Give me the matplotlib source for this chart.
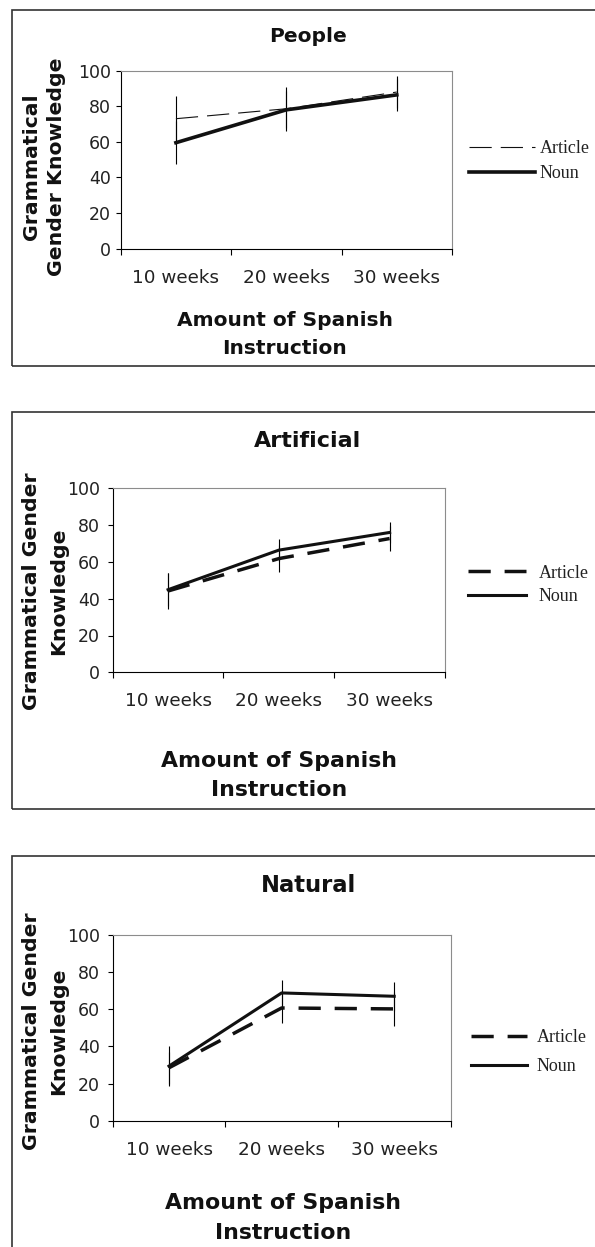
import matplotlib
matplotlib.use("Agg")
import matplotlib.pyplot as plt
from matplotlib.patches import Rectangle

# data
weeks = ['10 weeks', '20 weeks', '30 weeks']

people_article = [73, 78.6, 88]
people_article_err = [12.8, 12.4, 9.2]
people_noun = [59.5, 78, 86.4]
people_noun_err = [12, 10.5, 9]

artificial_article = [44.2, 61.8, 72.7]
artificial_article_err = [10, 7.3, 7]
artificial_noun = [44.9, 66.4, 76]
artificial_noun_err = [9, 6, 5.8]

natural_article = [28.5, 60.7, 60.2]
natural_article_err = [8.7, 8, 9.2]
natural_noun = [29.4, 68.8, 67]
natural_noun_err = [10.6, 7, 7.8]

plt.rcParams['lines.scale_dashes'] = False

W, H = 595, 1247
fig = plt.figure(figsize=(W / 100, H / 100), dpi=100)


def fx(x):
    return x / W


def fy(y):
    return 1 - y / H


def draw_panel(box, axbox, title, title_size, xlab_y, xlab_x, xlab_size,
               ylab_lines, ylab_xs, ylab_y, art, art_err, noun, noun_err,
               art_lw, art_dash, noun_lw, leg_x, leg_y, leg_hl, leg_pad, leg_sp,
               ytick_pad):
    # outer frame
    x0, y0, y1 = box
    fig.patches.append(Rectangle((fx(x0), fy(y1)), fx(700) - fx(x0), fy(y0) - fy(y1),
                                 transform=fig.transFigure, fill=False,
                                 edgecolor='#333333', linewidth=1.2))
    l, r, t, b = axbox
    ax = fig.add_axes([fx(l), fy(b), (r - l) / W, (b - t) / H])
    x = [0.5, 1.5, 2.5]
    ax.errorbar(x, art, yerr=art_err, fmt='none', ecolor='black', elinewidth=0.8, capsize=0)
    ax.errorbar(x, noun, yerr=noun_err, fmt='none', ecolor='black', elinewidth=0.8, capsize=0)
    la, = ax.plot(x, art, color='#111111', lw=art_lw, dashes=art_dash, label='Article')
    ln, = ax.plot(x, noun, color='#111111', lw=noun_lw, label='Noun')
    ax.set_xlim(0, 3)
    ax.set_ylim(0, 100)
    ax.set_yticks(range(0, 101, 20))
    ax.set_xticks([0, 1, 2, 3])
    ax.set_xticklabels([])
    ax.set_xticks(x, minor=True)
    ax.set_xticklabels(weeks, minor=True, fontsize=13.2, color='#222222')
    ax.tick_params(axis='x', which='minor', length=0, pad=14.5)
    ax.tick_params(axis='x', which='major', length=4.5, width=0.8, direction='out')
    ax.tick_params(axis='y', length=3.6, width=0.8, direction='out', pad=ytick_pad,
                   labelsize=12.5, labelcolor='#222222')
    for s in ['top', 'right']:
        ax.spines[s].set_color('#8c8c8c')
        ax.spines[s].set_linewidth(0.8)
    for s in ['left', 'bottom']:
        ax.spines[s].set_color('black')
        ax.spines[s].set_linewidth(0.8)

    fig.text(fx(308), fy(title[1]), title[0], ha='center', va='center',
             fontsize=title_size, fontweight='bold', color='#111111')
    fig.text(fx(xlab_x), fy(xlab_y[0]), 'Amount of Spanish', ha='center', va='center',
             fontsize=xlab_size, fontweight='bold', color='#111111')
    fig.text(fx(xlab_x), fy(xlab_y[1]), 'Instruction', ha='center', va='center',
             fontsize=xlab_size, fontweight='bold', color='#111111')
    for txt, xx in zip(ylab_lines, ylab_xs):
        fig.text(fx(xx), fy(ylab_y), txt, ha='center', va='center', rotation=90,
                 fontsize=14.7, fontweight='bold', color='#111111')

    leg = ax.legend(handles=[la, ln], loc='center left',
                    bbox_to_anchor=(fx(leg_x), fy(leg_y)),
                    bbox_transform=fig.transFigure, frameon=False,
                    borderpad=0, borderaxespad=0, handlelength=leg_hl,
                    handletextpad=leg_pad, labelspacing=leg_sp,
                    prop={'family': 'Liberation Serif', 'size': 13})
    for t_ in leg.get_texts():
        t_.set_color('#222222')
    return ax


draw_panel(box=(12, 10.5, 365.7), axbox=(120.7, 452, 70.7, 248.5),
           title=('People', 36), title_size=14.5,
           xlab_y=(321, 348), xlab_x=285, xlab_size=14.5,
           ylab_lines=['Grammatical', 'Gender Knowledge'], ylab_xs=[32, 56], ylab_y=167,
           art=people_article, art_err=people_article_err,
           noun=people_noun, noun_err=people_noun_err,
           art_lw=0.8, art_dash=(16, 6.5), noun_lw=2.6,
           leg_x=469, leg_y=161, leg_hl=3.65, leg_pad=0.25, leg_sp=0.45,
           ytick_pad=3.6)

draw_panel(box=(12, 411.7, 809.3), axbox=(112.7, 445, 488.3, 672.3),
           title=('Artificial', 440.7), title_size=16,
           xlab_y=(760.7, 790), xlab_x=279, xlab_size=15.8,
           ylab_lines=['Grammatical Gender', 'Knowledge'], ylab_xs=[32, 59], ylab_y=591,
           art=artificial_article, art_err=artificial_article_err,
           noun=artificial_noun, noun_err=artificial_noun_err,
           art_lw=2.5, art_dash=(16, 10), noun_lw=2.2,
           leg_x=468, leg_y=584.7, leg_hl=3.2, leg_pad=0.72, leg_sp=0.35,
           ytick_pad=5.8)

draw_panel(box=(12, 856, 1300), axbox=(112.7, 450.5, 935, 1120.7),
           title=('Natural', 885), title_size=16.3,
           xlab_y=(1203.3, 1232.7), xlab_x=283, xlab_size=15.8,
           ylab_lines=['Grammatical Gender', 'Knowledge'], ylab_xs=[32, 59], ylab_y=1031,
           art=natural_article, art_err=natural_article_err,
           noun=natural_noun, noun_err=natural_noun_err,
           art_lw=2.5, art_dash=(16, 10), noun_lw=2.2,
           leg_x=470.6, leg_y=1052, leg_hl=3.15, leg_pad=0.52, leg_sp=0.65,
           ytick_pad=5.8)

fig.savefig('out.png', dpi=100)
